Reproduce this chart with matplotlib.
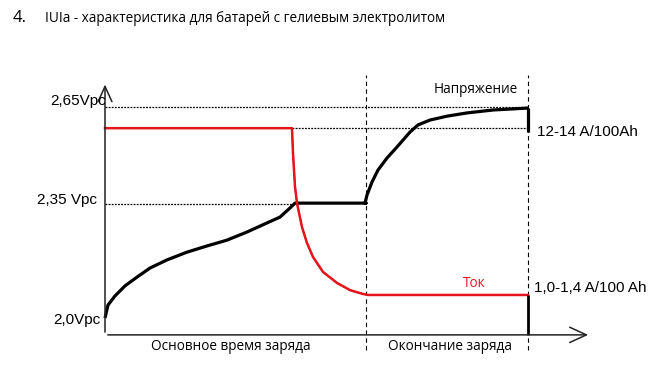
import numpy as np
import matplotlib.pyplot as plt

# time axis in arbitrary units, voltage axis in V per cell
t_abs_end = 26.1
t_end = 42.3

v_abs = 2.35
v_max = 2.65

# voltage during bulk phase (rising S-curve)
volt_t1 = [0, 0.3, 1.0, 2.0, 3.2, 4.5, 6.2, 8.2, 10.2, 12.2, 14.2, 16.2, 17.5, 18.5, 19.0]
volt_v1 = [2.0, 2.040, 2.068, 2.099, 2.126, 2.154, 2.179, 2.203, 2.222, 2.240,
           2.265, 2.293, 2.311, 2.339, 2.354]
# voltage during end phase
volt_t2 = [26.0, 26.2, 26.7, 27.3, 28.2, 29.2, 30.5, 31.3, 32.5, 34.2, 36.2, 38.8, 42.3]
volt_v2 = [2.354, 2.379, 2.419, 2.456, 2.493, 2.527, 2.573, 2.595, 2.610, 2.622,
           2.632, 2.641, 2.647]

# current (drawn in the same scale, arbitrary units)
cur_high = 2.585
cur_low = 2.071
cur_t = [0, 18.7, 18.8, 19.0, 19.2, 19.7, 20.2, 20.8, 21.8, 23.2, 24.5, 25.8, 26.3, 42.3]
cur_v = [2.585, 2.585, 2.508, 2.404, 2.354, 2.280, 2.231, 2.188, 2.142, 2.108,
         2.086, 2.074, 2.071, 2.071]

x_axis_v = 1.948
y_top = 2.728
x_tip = 48.6

fig = plt.figure(figsize=(6.61, 3.67), dpi=100)
ax = fig.add_axes([0, 0, 1, 1])
ax.set_xlim(-10.5, 55.6)
ax.set_ylim(1.849, 2.980)
ax.axis('off')

num_font = 'Liberation Sans'
ru_font = 'Open Sans'

# axes with arrows
ax.annotate('', xy=(0, y_top), xytext=(0, x_axis_v),
            arrowprops=dict(arrowstyle='->,head_length=1.1,head_width=0.5', lw=1.1, color='#222222'))
ax.annotate('', xy=(x_tip, x_axis_v), xytext=(0, x_axis_v),
            arrowprops=dict(arrowstyle='->,head_length=1.2,head_width=0.55', lw=1.1, color='#222222'))

# dotted reference lines
dot = (0, (1.5, 1.0))
ax.plot([0, t_end], [v_max, v_max], color='black', lw=0.9, ls=dot)
ax.plot([18.7, t_end], [cur_high, cur_high], color='black', lw=0.9, ls=dot)
ax.plot([0, 19.0], [v_abs, v_abs], color='black', lw=0.9, ls=dot)

# dashed phase separators
for xv in [t_abs_end, t_end]:
    ax.plot([xv, xv], [1.901, 2.749], color='black', lw=0.8, ls=(0, (4, 3)))

# voltage curve
vt = volt_t1 + [t_abs_end] + volt_t2
vv = volt_v1 + [volt_v1[-1]] + volt_v2
ax.plot(vt, vv, color='black', lw=2.3, solid_joinstyle='round', solid_capstyle='butt')
ax.plot([t_end, t_end], [v_max - 0.003, 2.573], color='black', lw=2.3, solid_capstyle='butt')

# current curve
ax.plot(cur_t, cur_v, color='black', lw=1.0)
ax.plot(cur_t, cur_v, color='#e8141c', lw=1.8, solid_joinstyle='round')
ax.plot([t_end, t_end], [cur_low, x_axis_v], color='black', lw=2.0, solid_capstyle='butt')

# labels
ax.text(0.1, 2.668, '2,65Vpc', ha='right', va='center', fontsize=11, family=num_font)
ax.text(-0.8, 2.365, '2,35 Vpc', ha='right', va='center', fontsize=11, family=num_font)
ax.text(-0.5, 1.994, '2,0Vpc', ha='right', va='center', fontsize=11, family=num_font)
ax.text(43.2, 2.573, '12-14 A/100Ah', ha='left', va='center', fontsize=11, family=num_font)
ax.text(42.9, 2.093, '1,0-1,4 A/100 Ah', ha='left', va='center', fontsize=11, family=num_font)

ax.text(32.9, 2.705, 'Напряжение', ha='left', va='center', fontsize=9.8, family=ru_font)
ax.text(35.8, 2.105, 'Ток', ha='left', va='center', fontsize=9.8, family=ru_font, color='#e8141c')
ax.text(12.6, 1.911, 'Основное время заряда', ha='center', va='center', fontsize=9.8, family=ru_font)
ax.text(34.5, 1.911, 'Окончание заряда', ha='center', va='center', fontsize=9.8, family=ru_font)

fig.text(13 / 661, 1 - 18 / 367, '4.', ha='left', va='center', fontsize=12, family=ru_font)
fig.text(45 / 661, 1 - 18 / 367, 'IUIa - характеристика для батарей с гелиевым электролитом',
         ha='left', va='center', fontsize=9.8, family=ru_font)

fig.savefig('out.png', dpi=100)
